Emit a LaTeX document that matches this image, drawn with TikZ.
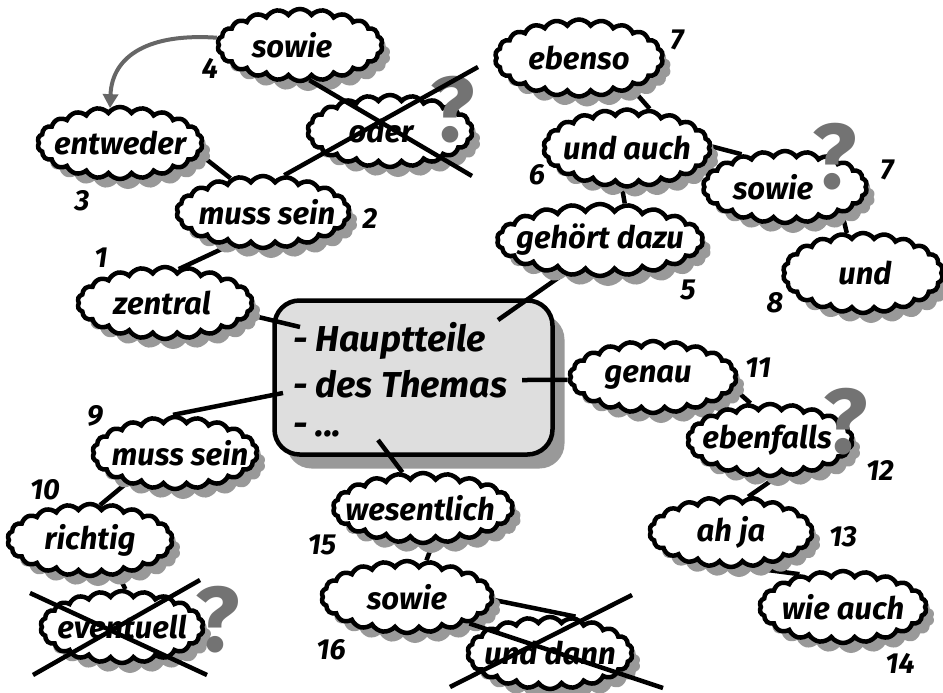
\documentclass[tikz,border=0pt]{standalone}
\usepackage{fontspec}
\setmainfont{Fira Sans}
\usetikzlibrary{shapes.symbols,shadows,arrows.meta}
\pgfdeclarelayer{bg}
\pgfsetlayers{bg,main}
\newcommand\cltext[2][0pt]{\makebox[0pt]{\hspace*{#1}#2}}
\tikzset{
  bubble/.style={cloud, cloud puffs=22, cloud puff arc=110, cloud ignores aspect,
    draw=black, line width=4.5pt, fill=white, minimum width=#1, minimum height=72pt,
    inner sep=0pt, font=\fontsize{31}{31}\selectfont\bfseries\itshape,
    drop shadow={shadow xshift=8pt, shadow yshift=-10pt, fill=black!40, opacity=1}},
  bubble/.default=165pt,
  num/.style={font=\fontsize{29}{29}\selectfont\bfseries\itshape, inner sep=0pt},
  boxtext/.style={anchor=west, inner sep=0pt, font=\fontsize{36}{36}\selectfont\bfseries\itshape},
  link/.style={line width=4.5pt, black},
  cross/.style={line width=4.5pt, black},
  qmark/.style={text=black!55, font=\fontsize{92}{92}\selectfont\bfseries, inner sep=0pt},
  garrow/.style={line width=4pt, black!60, -{Triangle[length=14pt,width=15pt]}},
}
\begin{document}
\begin{tikzpicture}[x=1pt,y=-1pt]
\useasboundingbox (0,0) rectangle (943,693);

% central box
\begin{pgfonlayer}{bg}
\node[draw, line width=4.5pt, rounded corners=25pt, fill=black!13,
  minimum width=278pt, minimum height=154pt, inner sep=0pt,
  drop shadow={shadow xshift=12pt, shadow yshift=-14pt, fill=black!40, opacity=1}]
  (box) at (413.5,377.5) {};
\node[boxtext] (l1) at (293,341) {- Hauptteile};
\node[boxtext] (l2) at (293,384) {- des Themas};
\node[boxtext] (l3) at (293,430) {- ...};
\end{pgfonlayer}

% clouds
\node[bubble] (sowieA) at (300,45) {\cltext[-16pt]{sowie}};
\node[bubble] (entweder) at (120,143) {\cltext{entweder}};
\node[bubble] (oder) at (390,131) {\cltext[-18pt]{oder}};
\node[bubble=173pt] (mussA) at (263,212) {\cltext[8pt]{muss sein}};
\node[bubble=175pt] (zentral) at (165,303) {\cltext[-6pt]{zentral}};
\node[bubble] (mussB) at (175,453) {\cltext[10pt]{muss sein}};
\node[bubble] (richtig) at (90,540) {\cltext{richtig}};
\node[bubble=163pt] (eventuell) at (122,627) {\cltext{eventuell}};
\node[bubble=180pt, minimum height=70pt] (wesentlich) at (423,508) {\cltext[-6pt]{wesentlich}};
\node[bubble=171pt] (sowieC) at (407,597) {\cltext{sowie}};
\node[bubble] (unddann) at (550,653) {\cltext{und dann}};
\node[bubble=168pt, minimum height=77pt] (ebenso) at (579,58) {\cltext{ebenso}};
\node[bubble=167pt, minimum height=77pt] (undauch) at (627,148) {\cltext{und auch}};
\node[bubble=164pt] (sowieB) at (785,187) {\cltext[-24pt]{sowie}};
\node[bubble=206pt] (gehoert) at (600,240) {\cltext{gehört dazu}};
\node[bubble=160pt, minimum height=80pt] (und) at (863,273) {\cltext[4pt]{und}};
\node[bubble=167pt] (genau) at (653,377) {\cltext[-10pt]{genau}};
\node[bubble] (ebenfalls) at (770,440) {\cltext[-6pt]{ebenfalls}};
\node[bubble=163pt, minimum height=70pt] (ahja) at (731,532) {\cltext{ah ja}};
\node[bubble=167pt] (wieauch) at (843,607) {\cltext{wie auch}};

% numbers
\node[num] (n4) at (210,68) {4};
\node[num] (n3) at (82,201) {3};
\node[num] (n2) at (370,218) {2};
\node[num] (n1) at (101,258) {1};
\node[num] (n9) at (95,416) {9};
\node[num] (n10) at (45,490) {10};
\node[num] (n15) at (322,545) {15};
\node[num] (n16) at (331,650) {16};
\node[num] (n7a) at (677,40) {7};
\node[num] (n6) at (537,175) {6};
\node[num] (n7b) at (887,170) {7};
\node[num] (n5) at (688,290) {5};
\node[num] (n8) at (775,303) {8};
\node[num] (n11) at (758,368) {11};
\node[num] (n12) at (880,470) {12};
\node[num] (n13) at (843,537) {13};
\node[num] (n14) at (900,663) {14};

% connector ends inside the box
\coordinate (bz) at (300,327);
\coordinate (bm) at (283,393);
\coordinate (bw) at (378,440);
\coordinate (bg) at (498,320);
\coordinate (bn) at (522,380);

\begin{pgfonlayer}{bg}
\draw[link] (entweder.-8) -- (mussA.134);
\draw[link] (mussA.225) -- (zentral.68);
\draw[link] (zentral.-8) -- (bz);
\draw[link] (bm) -- (mussB.93);
\draw[link] (bw) -- (wesentlich.120);
\draw[link] (bg) -- (gehoert.223);
\draw[link] (bn) -- (genau.182);
\draw[link] (gehoert.56) -- (undauch.263);
\draw[link] (undauch.60) -- (ebenso.-30);
\draw[link] (undauch.1) -- (sowieB.143);
\draw[link] (sowieB.-25) -- (und.112);
\draw[link] (genau.-8) -- (ebenfalls.118);
\draw[link] (ebenfalls.-71) -- (ahja.64);
\draw[link] (ahja.-63) -- (wieauch.143);
\draw[link] (mussB.212) -- (richtig.74);
\draw[link] (wesentlich.-73) -- (sowieC.62);
\draw[link] (richtig.-51) -- (eventuell.85);
\draw[link] (sowieC.-2) -- (unddann.55);
\end{pgfonlayer}

% gray arrow
\draw[garrow] (sowieA.175) .. controls (150,33) and (112,55) .. (entweder.106);

% question marks
\node[qmark] (q1) at (453,110) {?};
\node[qmark] (q2) at (835,157) {?};
\node[qmark] (q3) at (846,422) {?};
\node[qmark] (q4) at (218,620) {?};

% crosses
\coordinate (x1) at (472,176);
\coordinate (x2) at (478,67);
\draw[cross] (sowieA.-75) -- (x1);
\draw[cross] (mussA.60) -- (x2);
\coordinate (e1) at (30,593);
\coordinate (e2) at (207,675);
\coordinate (e3) at (200,580);
\coordinate (e4) at (33,675);
\draw[cross] (e1) -- (e2);
\draw[cross] (e3) -- (e4);
\coordinate (u1) at (663,688);
\coordinate (u2) at (632,595);
\coordinate (u3) at (450,687);
\draw[cross] (sowieC.-23) -- (u1);
\draw[cross] (u2) -- (u3);
\end{tikzpicture}
\end{document}
